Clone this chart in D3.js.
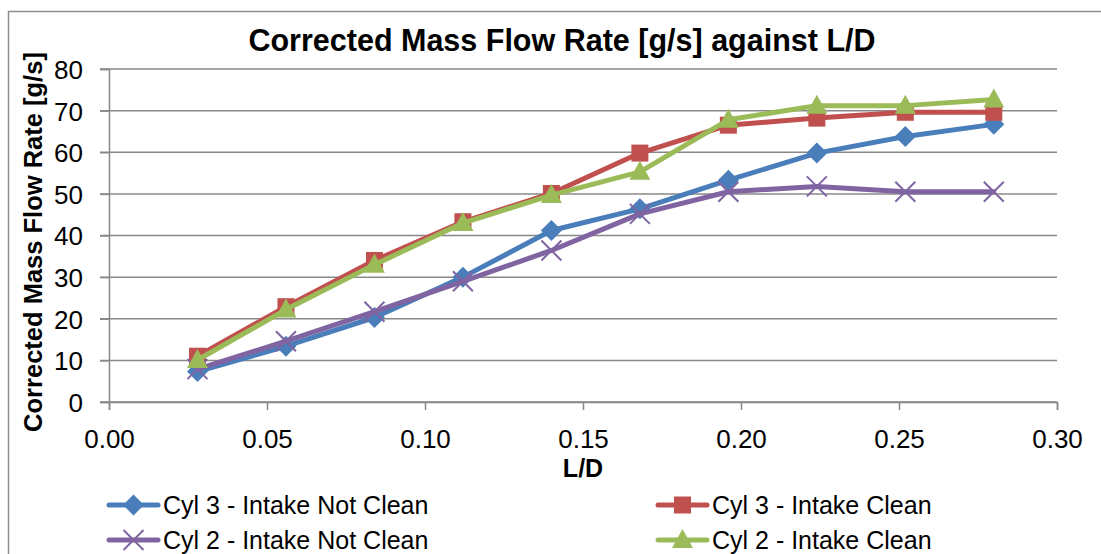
<!DOCTYPE html>
<html>
<head>
<meta charset="utf-8">
<script src="https://cdn.jsdelivr.net/npm/d3@7"></script>
<style>
  body { margin: 0; background: #fff; }
  svg { display: block; font-family: "Liberation Sans", Arial, sans-serif; }
</style>
</head>
<body>
<div id="chart"></div>
<script>
// Chart data
const ldValues = [0.028, 0.056, 0.084, 0.112, 0.140, 0.168, 0.196, 0.224, 0.252, 0.280];
const cyl3NotClean = [7.3, 13.4, 20.3, 30.0, 41.2, 46.4, 53.3, 59.8, 63.8, 66.7];
const cyl3Clean = [11.0, 22.9, 34.0, 43.3, 50.1, 59.8, 66.5, 68.2, 69.6, 69.6];
const cyl2NotClean = [7.9, 14.6, 21.7, 29.0, 36.4, 45.2, 50.5, 51.8, 50.5, 50.5];
const cyl2Clean = [10.1, 22.2, 33.0, 43.0, 49.7, 55.3, 67.8, 71.2, 71.2, 72.7];

const seriesNames = ["Cyl 3 - Intake Not Clean", "Cyl 3 - Intake Clean", "Cyl 2 - Intake Not Clean", "Cyl 2 - Intake Clean"];
const seriesColors = ["#4a7ebb", "#c0504d", "#8064a2", "#9bbb59"];
const seriesMarkers = ["diamond", "square", "x", "triangle"];
const seriesValues = [cyl3NotClean, cyl3Clean, cyl2NotClean, cyl2Clean];

const xTicks = [0, 0.05, 0.10, 0.15, 0.20, 0.25, 0.30];
const yTicks = [0, 10, 20, 30, 40, 50, 60, 70, 80];

const WIDTH = 1101;
const HEIGHT = 554;
const GRID = "#888888";

const svg = d3.select("#chart")
  .append("svg")
  .attr("width", WIDTH)
  .attr("height", HEIGHT);

// chart border (runs off the right and bottom edge)
svg.append("rect")
  .attr("x", 8.5).attr("y", 11.5)
  .attr("width", 1120).attr("height", 600)
  .attr("fill", "none")
  .attr("stroke", "#8e8e8e")
  .attr("stroke-width", 1.5);

// Scales
const x = d3.scaleLinear().domain([0, 0.30]).range([109, 1057]);
const y = d3.scaleLinear().domain([0, 80]).range([402, 69]);

// Gridlines
svg.append("g")
  .selectAll("line")
  .data(yTicks)
  .join("line")
  .attr("x1", 100).attr("x2", x(0.30))
  .attr("y1", d => y(d)).attr("y2", d => y(d))
  .attr("stroke", GRID)
  .attr("stroke-width", 1.5);

// Axes
const xAxis = svg.append("g")
  .attr("transform", `translate(0, ${y(0)})`)
  .call(d3.axisBottom(x).tickValues(xTicks).tickFormat(d3.format(".2f")).tickSize(8).tickPadding(20));
const yAxis = svg.append("g")
  .attr("transform", `translate(${x(0)}, 0)`)
  .call(d3.axisLeft(y).tickValues(yTicks).tickSize(9).tickPadding(17));

[xAxis, yAxis].forEach(ax => {
  ax.select(".domain").attr("stroke", GRID).attr("stroke-width", 1.5);
  ax.selectAll(".tick line").attr("stroke", GRID).attr("stroke-width", 1.5);
  ax.selectAll(".tick text")
    .attr("fill", "#000")
    .attr("font-size", "26px")
    .attr("font-family", "Liberation Sans, Arial, sans-serif");
});
yAxis.selectAll(".tick text").attr("dy", "0.36em");

// Titles
svg.append("text")
  .attr("x", 562).attr("y", 51)
  .attr("text-anchor", "middle")
  .attr("font-size", "30.5px")
  .attr("font-weight", "bold")
  .text("Corrected Mass Flow Rate [g/s] against L/D");

svg.append("text")
  .attr("x", 583).attr("y", 477)
  .attr("text-anchor", "middle")
  .attr("font-size", "25px")
  .attr("font-weight", "bold")
  .text("L/D");

svg.append("text")
  .attr("transform", "translate(42, 242) rotate(-90)")
  .attr("text-anchor", "middle")
  .attr("font-size", "25.5px")
  .attr("font-weight", "bold")
  .text("Corrected Mass Flow Rate [g/s]");

// Marker shapes
function markerPath(kind) {
  if (kind === "diamond") return "M0,-10.5L10.5,0L0,10.5L-10.5,0Z";
  if (kind === "square") return "M-8.5,-8.5H8.5V8.5H-8.5Z";
  if (kind === "triangle") return "M0,-11L10.5,8L-10.5,8Z";
  return "M-10,-10L10,10M10,-10L-10,10";
}

function drawMarker(g, kind, color) {
  const p = g.append("path").attr("d", markerPath(kind));
  if (kind === "x") {
    p.attr("fill", "none").attr("stroke", color).attr("stroke-width", 2);
  } else {
    p.attr("fill", color);
  }
}

// Lines and markers
const line = d3.line()
  .x((d, i) => x(ldValues[i]))
  .y(d => y(d));

seriesValues.forEach((vals, s) => {
  const g = svg.append("g");
  g.append("path")
    .datum(vals)
    .attr("d", line)
    .attr("fill", "none")
    .attr("stroke", seriesColors[s])
    .attr("stroke-width", 5)
    .attr("stroke-linejoin", "round")
    .attr("stroke-linecap", "round");
  vals.forEach((v, i) => {
    const m = g.append("g").attr("transform", `translate(${x(ldValues[i])}, ${y(v)})`);
    drawMarker(m, seriesMarkers[s], seriesColors[s]);
  });
});

// Legend
const legendCols = [107, 656];
const legendRows = [505, 540];
seriesNames.forEach((name, s) => {
  const lx = legendCols[s % 2];
  const ly = legendRows[Math.floor(s / 2)];
  const g = svg.append("g").attr("transform", `translate(${lx}, ${ly})`);
  g.append("line")
    .attr("x1", 2).attr("x2", 51)
    .attr("stroke", seriesColors[s])
    .attr("stroke-width", 5)
    .attr("stroke-linecap", "round");
  drawMarker(g.append("g").attr("transform", "translate(26.5, 0)"), seriesMarkers[s], seriesColors[s]);
  g.append("text")
    .attr("x", 56).attr("y", 9)
    .attr("font-size", "25px")
    .text(name);
});
</script>
</body>
</html>
